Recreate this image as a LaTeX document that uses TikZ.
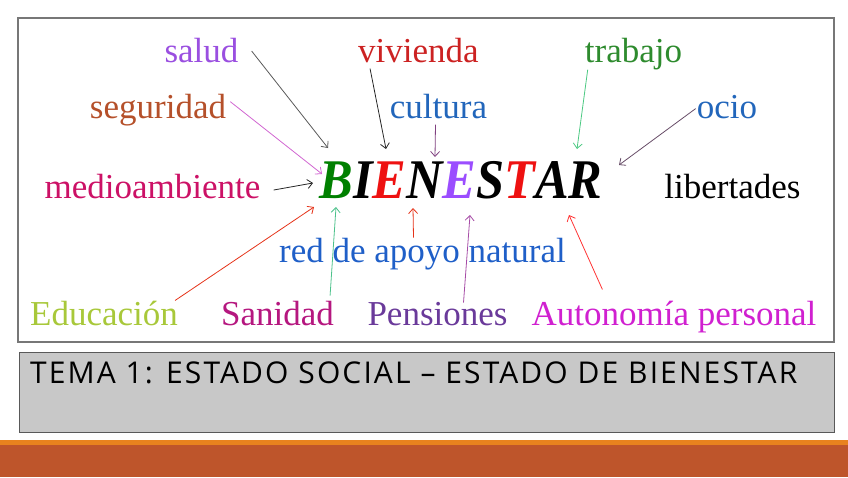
\documentclass[tikz,border=0pt]{standalone}
\usepackage{fontspec}
\setmainfont{Liberation Serif}
\newfontfamily\titlefont[LetterSpace=7]{Open Sans}
\usetikzlibrary{arrows.meta}
\definecolor{saludCol}{HTML}{9A4FE0}
\definecolor{viviendaCol}{HTML}{CC2222}
\definecolor{trabajoCol}{HTML}{2E8B2E}
\definecolor{seguridadCol}{HTML}{B5502A}
\definecolor{culturaCol}{HTML}{2266BB}
\definecolor{medioCol}{HTML}{CC1166}
\definecolor{redCol}{HTML}{1F5FC8}
\definecolor{educacionCol}{HTML}{A8C83A}
\definecolor{sanidadCol}{HTML}{B5177F}
\definecolor{pensionesCol}{HTML}{6A3A9A}
\definecolor{autonomiaCol}{HTML}{D020D0}
\definecolor{bGreen}{HTML}{008000}
\definecolor{bRed}{HTML}{EE1111}
\definecolor{bViolet}{HTML}{9B4DFF}
\definecolor{frameGray}{HTML}{777777}
\definecolor{boxGray}{HTML}{C8C8C8}
\definecolor{stripeOrange}{HTML}{E8821E}
\definecolor{barRust}{HTML}{BE552B}
\begin{document}
\begin{tikzpicture}
[x=1pt,y=-1pt,
  labelDecorate/.style={anchor=base,inner sep=2pt,font=\fontsize{35}{40}\selectfont},
  arrowDecorate/.style={-{Straight Barb[length=5pt,width=9pt]},line width=0.8pt},
  scale=1]
\useasboundingbox (0,0) rectangle (848,477);
%% frames and bottom bar
\draw[frameGray,line width=1.5pt] (18,18) rectangle (834,342);
\draw[black!65,fill=boxGray,line width=1pt] (19,352) rectangle (834,432);
\fill[stripeOrange] (0,440) rectangle (848,445);
\fill[barRust] (0,445) rectangle (848,477);
\node (tema) at (30,383) [anchor=base west,inner sep=0pt,font=\titlefont\fontsize{30}{34}\selectfont]
  {TEMA 1: ESTADO SOCIAL – ESTADO DE BIENESTAR};
%% central word
\node (bienestar) at (461,198) [anchor=base,inner sep=2pt,font=\fontsize{56}{64}\selectfont\bfseries\itshape]
  {\scalebox{0.9}[1]{\textcolor{bGreen}{B}I\textcolor{bRed}{E}N\textcolor{bViolet}{E}S\textcolor{bRed}{T}AR}};
%% labels
\foreach \nodename/\x/\y/\col/\txt in {
  salud/201.5/62/saludCol/salud, vivienda/418.5/62/viviendaCol/vivienda,
  trabajo/633.5/62/trabajoCol/trabajo, seguridad/158/118/seguridadCol/seguridad,
  cultura/438.5/118/culturaCol/cultura, ocio/727/118/culturaCol/ocio,
  medio/152.5/198/medioCol/medioambiente, libertades/732.5/198/black/libertades,
  red/422.5/262/redCol/red de apoyo natural, educacion/104/325/educacionCol/Educación,
  sanidad/277.5/325/sanidadCol/Sanidad, pensiones/437.5/325/pensionesCol/Pensiones,
  autonomia/674/325/autonomiaCol/Autonomía personal}
{
  \node (\nodename) at (\x,\y) [labelDecorate,text=\col] {\txt};
}
%% arrow tips round the central word
\foreach \tipname/\x/\y in {
  tSalud/328/148, tSeguridad/322/174, tMedio/313/183, tVivienda/386/149,
  tCultura/435/157, tTrabajo/577/149, tOcio/619/165, tEducacion/314/207,
  tSanidad/336/207, tRed/413/208, tPensiones/470/215, tAutonomia/569/215}
{
  \coordinate (\tipname) at (\x,\y);
}
%% arrows
\path
\foreach \startnode/\dx/\dy/\endnode/\col in {
  salud.east/11/-1/tSalud/black!65, seguridad.east/2/8/tSeguridad/violet!60!magenta!60,
  medio.east/11/-4/tMedio/black!85, vivienda.south west/14/-4/tVivienda/black!85,
  cultura.south/-3/-4/tCultura/violet!50!gray, trabajo.south west/5/2/tTrabajo/teal!60!green!70,
  ocio.west/1/-2/tOcio/violet!30!black!70, educacion.north east/-5/-2/tEducacion/red!60!brown,
  sanidad.north east/-6/3/tSanidad/teal!70!green!70, red.north/-9/-2/tRed/red!60!brown,
  pensiones.north/26/-3/tPensiones/violet!70, autonomia.north west/73/9/tAutonomia/red!80}
{
  ([shift={(\dx pt,\dy pt)}]\startnode) edge[arrowDecorate,draw=\col] (\endnode)
};
\end{tikzpicture}
\end{document}
